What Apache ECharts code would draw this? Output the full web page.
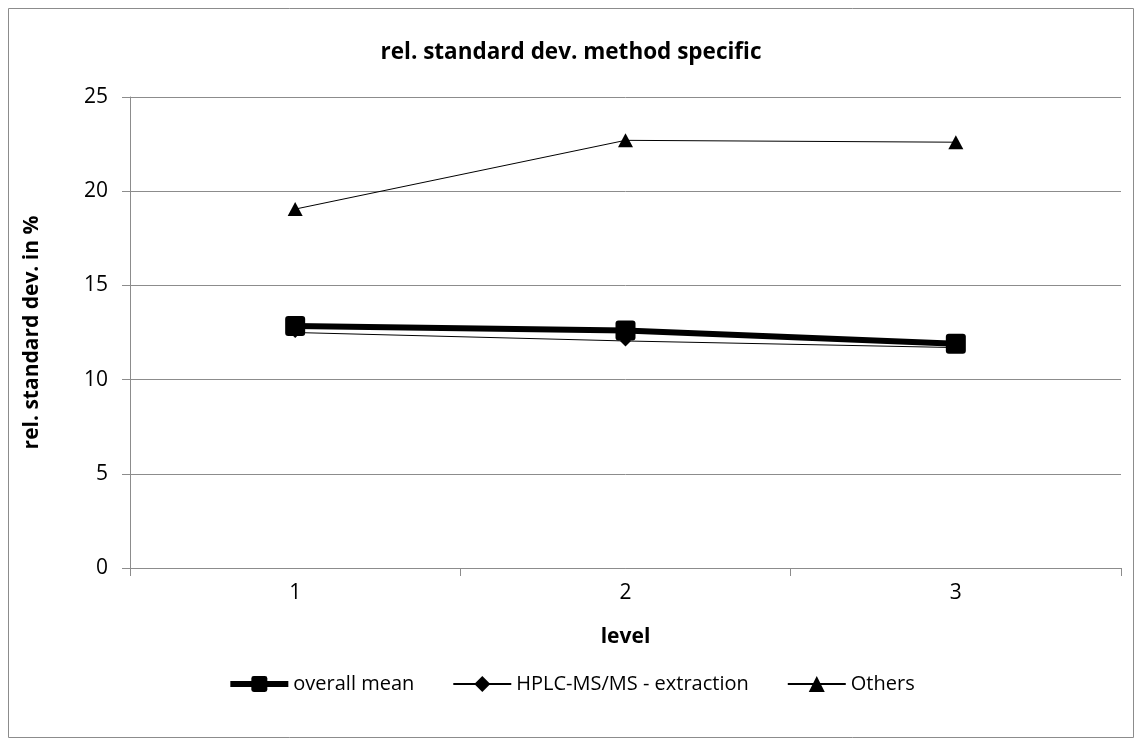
<!DOCTYPE html>
<html>
<head>
<meta charset="utf-8">
<script src="https://cdn.jsdelivr.net/npm/echarts@6/dist/echarts.min.js"></script>
<style>
  html, body { margin: 0; padding: 0; background: #fff; }
  #chart { width: 1142px; height: 747px; }
</style>
</head>
<body>
<div id="chart"></div>
<script>
// Levels on the x axis
const levels = ['1', '2', '3'];
// Relative standard deviation (%) per level
const overallMean = [12.85, 12.6, 11.9];
const hplcExtraction = [12.5, 12.05, 11.7];
const others = [19.05, 22.7, 22.6];

const FONT = '"Open Sans", "Liberation Sans", sans-serif';
const GRID_COLOR = '#8c8c8c';
const ROUNDED_SQUARE = 'path://M3,0 L17,0 Q20,0 20,3 L20,17 Q20,20 17,20 L3,20 Q0,20 0,17 L0,3 Q0,0 3,0 Z';

const chart = echarts.init(document.getElementById('chart'));
chart.setOption({
  animation: false,
  textStyle: { fontFamily: FONT, color: '#000' },
  graphic: [{
    type: 'rect',
    shape: { x: 8.5, y: 8.5, width: 1125, height: 729 },
    style: { fill: 'none', stroke: '#8c8c8c', lineWidth: 1 },
    silent: true
  }],
  title: {
    text: 'rel. standard dev. method specific',
    left: 'center',
    top: 36,
    textStyle: { fontFamily: FONT, fontSize: 22.5, fontWeight: 'bold', color: '#000' }
  },
  grid: { left: 130, right: 21, top: 97, bottom: 179, containLabel: false },
  legend: {
    bottom: 48,
    left: 'center',
    itemGap: 38,
    itemWidth: 58,
    itemHeight: 20,
    textStyle: { fontFamily: FONT, fontSize: 20, color: '#000' },
    data: [
      { name: 'overall mean', lineStyle: { width: 6 } },
      { name: 'HPLC-MS/MS - extraction' },
      { name: 'Others' }
    ]
  },
  xAxis: {
    type: 'category',
    data: levels,
    boundaryGap: true,
    name: 'level',
    nameLocation: 'middle',
    nameGap: 59,
    nameTextStyle: { fontFamily: FONT, fontSize: 21, fontWeight: 'bold', color: '#000' },
    axisLine: { lineStyle: { color: GRID_COLOR, width: 1 } },
    axisTick: { show: true, length: 8, lineStyle: { color: GRID_COLOR } },
    axisLabel: { fontFamily: FONT, fontSize: 21, color: '#000', margin: 15 }
  },
  yAxis: {
    type: 'value',
    min: 0,
    max: 25,
    interval: 5,
    name: 'rel. standard dev. in %',
    nameLocation: 'middle',
    nameGap: 87,
    nameTextStyle: { fontFamily: FONT, fontSize: 21, fontWeight: 'bold', color: '#000' },
    axisLine: { show: true, lineStyle: { color: GRID_COLOR, width: 1 } },
    axisTick: { show: true, length: 8, lineStyle: { color: GRID_COLOR } },
    axisLabel: { fontFamily: FONT, fontSize: 21, color: '#000', margin: 22 },
    splitLine: { show: true, lineStyle: { color: GRID_COLOR, width: 1 } }
  },
  series: [
    {
      name: 'overall mean',
      type: 'line',
      data: overallMean,
      symbol: ROUNDED_SQUARE,
      symbolSize: 20,
      lineStyle: { color: '#000', width: 6 },
      itemStyle: { color: '#000' },
      z: 3
    },
    {
      name: 'HPLC-MS/MS - extraction',
      type: 'line',
      data: hplcExtraction,
      symbol: 'diamond',
      symbolSize: 11,
      lineStyle: { color: '#000', width: 1 },
      itemStyle: { color: '#000' },
      z: 2
    },
    {
      name: 'Others',
      type: 'line',
      data: others,
      symbol: 'triangle',
      symbolSize: [15, 14],
      lineStyle: { color: '#000', width: 1 },
      itemStyle: { color: '#000' },
      z: 2
    }
  ]
});
</script>
</body>
</html>
